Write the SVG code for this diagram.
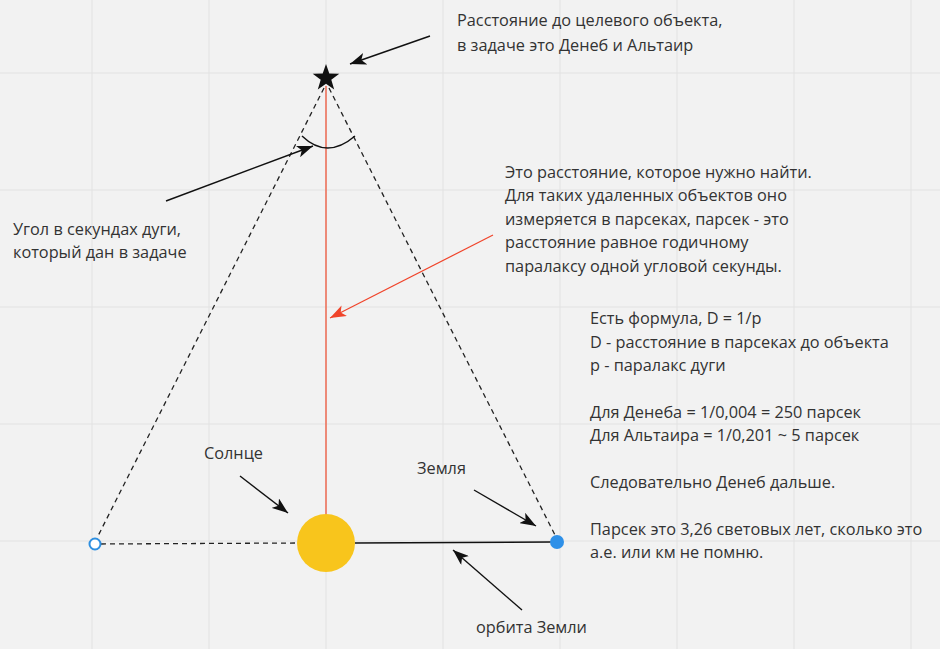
<svg xmlns="http://www.w3.org/2000/svg" width="940" height="649" viewBox="0 0 940 649">
<style>
.grid{stroke:#e2e2e2;stroke-width:1}
.t{font-family:"Open Sans","Noto Sans",sans-serif;font-size:16.3px;fill:#333}
.dash{stroke:#222;stroke-width:1.3;stroke-dasharray:5 4;fill:none}
.arr{stroke:#111;stroke-width:1.4;fill:none;marker-end:url(#ah)}
</style>
<defs>
<marker id="ah" markerUnits="userSpaceOnUse" markerWidth="18" markerHeight="12" refX="16" refY="6" orient="auto">
<path d="M0,0 L16,6 L0,12 L4,6 Z" fill="#111"/>
</marker>
<marker id="ahr" markerUnits="userSpaceOnUse" markerWidth="18" markerHeight="12" refX="16" refY="6" orient="auto">
<path d="M0,0 L16,6 L0,12 L4,6 Z" fill="#f0442a"/>
</marker>
</defs>
<rect width="940" height="649" fill="#f2f2f2"/>
<g id="grid">
<line class="grid" x1="92" y1="0" x2="92" y2="649"/>
<line class="grid" x1="209" y1="0" x2="209" y2="649"/>
<line class="grid" x1="326" y1="0" x2="326" y2="649"/>
<line class="grid" x1="443" y1="0" x2="443" y2="649"/>
<line class="grid" x1="560" y1="0" x2="560" y2="649"/>
<line class="grid" x1="677" y1="0" x2="677" y2="649"/>
<line class="grid" x1="794" y1="0" x2="794" y2="649"/>
<line class="grid" x1="911" y1="0" x2="911" y2="649"/>
<line class="grid" x1="0" y1="73" x2="940" y2="73"/>
<line class="grid" x1="0" y1="190" x2="940" y2="190"/>
<line class="grid" x1="0" y1="307" x2="940" y2="307"/>
<line class="grid" x1="0" y1="424" x2="940" y2="424"/>
<line class="grid" x1="0" y1="541" x2="940" y2="541"/>
</g>
<g id="connectors">
<line x1="326" y1="86" x2="326" y2="515" stroke="#ee6a52" stroke-width="1.5"/>
<line class="dash" x1="324" y1="88" x2="97" y2="538"/>
<line class="dash" x1="329" y1="88" x2="555" y2="535"/>
<line class="dash" x1="101" y1="544" x2="297" y2="543"/>
<line x1="355" y1="543" x2="551" y2="542" stroke="#111" stroke-width="1.5"/>
<path d="M302,136 Q327,160 355,136" fill="none" stroke="#111" stroke-width="1.4"/>
<line class="arr" x1="430" y1="36" x2="350" y2="64"/>
<line class="arr" x1="166" y1="201" x2="313" y2="146"/>
<line x1="493" y1="235" x2="330" y2="318" stroke="#f0442a" stroke-width="1.2" marker-end="url(#ahr)"/>
<line class="arr" x1="240" y1="476" x2="288" y2="513"/>
<line class="arr" x1="474" y1="490" x2="536" y2="526"/>
<line class="arr" x1="522" y1="610" x2="453" y2="550"/>
</g>
<g id="star">
<path d="M326,64 L329.3,73.5 L339.3,73.7 L331.3,79.8 L334.2,89.4 L326,83.7 L317.8,89.4 L320.7,79.8 L312.7,73.7 L322.7,73.5 Z" fill="#111"/>
</g>
<g id="sun">
<circle cx="326" cy="543" r="29" fill="#f8c51c"/>
</g>
<g id="point-left">
<circle cx="95" cy="544" r="5.5" fill="#fff" stroke="#2e8fe0" stroke-width="2"/>
</g>
<g id="earth">
<circle cx="557" cy="542" r="7" fill="#2e90e8"/>
</g>
<g id="label-target">
<text class="t" x="457" y="26">Расстояние до целевого объекта,</text>
<text class="t" x="457" y="51">в задаче это Денеб и Альтаир</text>
</g>
<g id="label-distance">
<text class="t" x="505" y="178">Это расстояние, которое нужно найти.</text>
<text class="t" x="505" y="201">Для таких удаленных объектов оно</text>
<text class="t" x="505" y="225">измеряется в парсеках, парсек - это</text>
<text class="t" x="505" y="248">расстояние равное годичному</text>
<text class="t" x="505" y="272">паралаксу одной угловой секунды.</text>
</g>
<g id="label-angle">
<text class="t" x="13" y="235">Угол в секундах дуги,</text>
<text class="t" x="13" y="258">который дан в задаче</text>
</g>
<g id="label-formula">
<text class="t" x="590" y="324">Есть формула, D = 1/p</text>
<text class="t" x="590" y="348">D - расстояние в парсеках до объекта</text>
<text class="t" x="590" y="371">p - паралакс дуги</text>
<text class="t" x="590" y="418">Для Денеба = 1/0,004 = 250 парсек</text>
<text class="t" x="590" y="441">Для Альтаира = 1/0,201 ~ 5 парсек</text>
<text class="t" x="590" y="488">Следовательно Денеб дальше.</text>
<text class="t" x="590" y="535">Парсек это 3,26 световых лет, сколько это</text>
<text class="t" x="590" y="558">а.е. или км не помню.</text>
</g>
<g id="label-sun"><text class="t" x="204" y="459">Солнце</text></g>
<g id="label-earth"><text class="t" x="417" y="474">Земля</text></g>
<g id="label-orbit"><text class="t" x="476" y="633">орбита Земли</text></g>
</svg>
